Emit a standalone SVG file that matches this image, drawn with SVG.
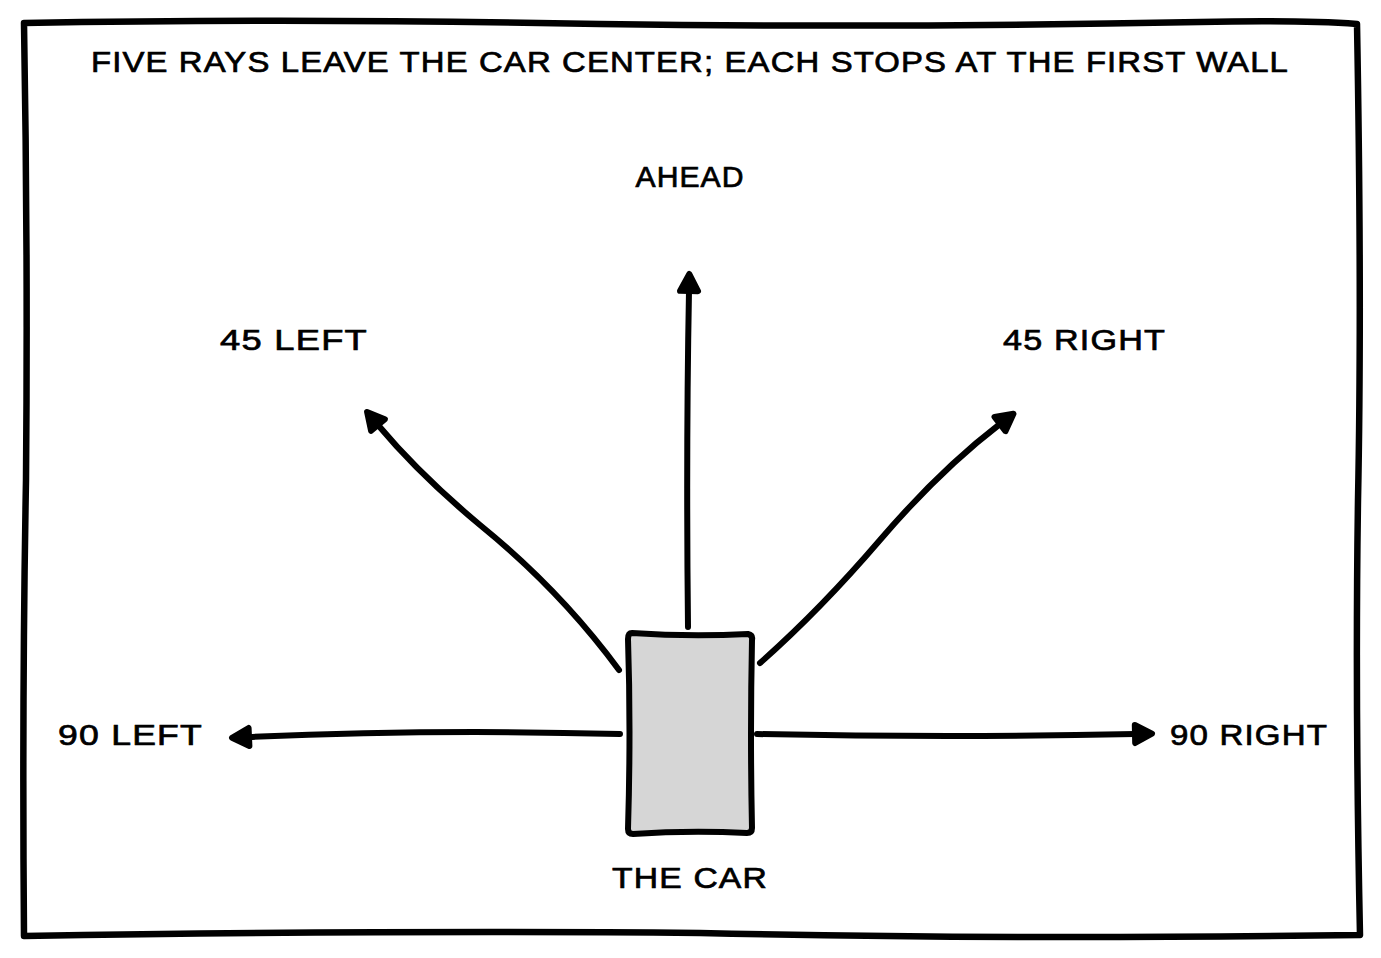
<svg xmlns="http://www.w3.org/2000/svg" width="1381" height="958" viewBox="0 0 1381 958">
<defs>
<style>
.t{font-family:"Liberation Sans",Arial,sans-serif;font-size:29px;fill:#000;stroke:#000;stroke-width:0.7;letter-spacing:1px}
.c{fill:none;stroke:#000;stroke-width:6;stroke-linecap:round;stroke-linejoin:round}
</style>
<marker id="ah" viewBox="0 0 26 26" refX="5" refY="13" markerWidth="26" markerHeight="26" markerUnits="userSpaceOnUse" orient="auto">
<path d="M5,4 L22,13 L5,22 Z" fill="#000" stroke="#000" stroke-width="6" stroke-linejoin="round"/>
</marker>
</defs>
<rect width="1381" height="958" fill="#fff"/>
<g id="frame">
<path d="M24,23 Q300,18 600,24 Q900,28 1200,22 Q1300,20 1357,24 Q1362,300 1358,500 Q1355,700 1360,935 Q1000,940 700,933 Q400,930 24,936 Q22,700 26,480 Q28,250 24,23 Z" fill="none" stroke="#000" stroke-width="6.5" stroke-linejoin="round"/>
</g>
<g id="title"><text class="t" x="690" y="72" text-anchor="middle" textLength="1198" lengthAdjust="spacingAndGlyphs">FIVE RAYS LEAVE THE CAR CENTER; EACH STOPS AT THE FIRST WALL</text></g>
<g id="connectors">
<path class="c" d="M688,627 Q686,450 689,291" marker-end="url(#ah)"/>
<path class="c" d="M619,670 Q560,590 480,525 Q420,475 378,425" marker-end="url(#ah)"/>
<path class="c" d="M760,663 Q820,610 880,540 Q940,470 1000,424" marker-end="url(#ah)"/>
<path class="c" d="M620,734 Q430,729 249,737" marker-end="url(#ah)"/>
<path class="c" d="M757,734 Q950,738 1135,734" marker-end="url(#ah)"/>
</g>
<g id="car">
<path d="M632,633 Q690,637 748,634 Q753,635 752,640 Q750,735 752,828 Q752,833 747,833 Q690,830 633,834 Q628,834 628,829 Q631,730 628,639 Q628,633 632,633 Z" fill="#d6d6d6" stroke="#000" stroke-width="6" stroke-linejoin="round"/>
<text class="t" x="690" y="888" text-anchor="middle" textLength="156" lengthAdjust="spacingAndGlyphs">THE CAR</text>
</g>
<g id="ahead"><text class="t" x="690" y="187" text-anchor="middle" textLength="109" lengthAdjust="spacingAndGlyphs">AHEAD</text></g>
<g id="left45"><text class="t" x="220" y="350" textLength="148" lengthAdjust="spacingAndGlyphs">45 LEFT</text></g>
<g id="right45"><text class="t" x="1003" y="350" textLength="163" lengthAdjust="spacingAndGlyphs">45 RIGHT</text></g>
<g id="left90"><text class="t" x="58" y="745" textLength="145" lengthAdjust="spacingAndGlyphs">90 LEFT</text></g>
<g id="right90"><text class="t" x="1170" y="745" textLength="158" lengthAdjust="spacingAndGlyphs">90 RIGHT</text></g>
</svg>
